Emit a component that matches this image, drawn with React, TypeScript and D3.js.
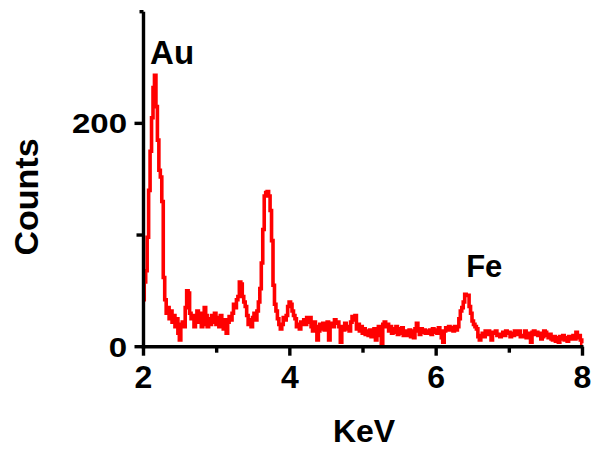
import React from "react";
import * as d3 from "d3";

// EDS spectrum: channel energies start at 2.00 KeV, spaced 0.02 KeV
const energyStart = 2.0;
const energyStep = 0.02;
const counts: number[] = [
  // 2.00 - 2.30
  42, 58, 68, 98, 140, 175, 205, 232, 243, 215, 185, 158, 152, 130, 62, 42,
  // 2.32 - 2.90
  30, 35, 25, 32, 22, 28, 18, 25, 12, 6, 20, 22, 18, 35, 50, 48, 30, 25, 28, 18,
  25, 32, 22, 30, 18, 20, 35, 28, 18, 25,
  // 2.92 - 4.10
  20, 28, 22, 30, 20, 26, 18, 28, 22, 16,
  24, 12, 22, 27, 24, 30, 38, 35, 42, 45,
  58, 56, 45, 40, 36, 28, 20, 24, 18, 26,
  30, 24, 32, 40, 52, 75, 105, 135, 138, 139,
  135, 122, 95, 55, 38, 32, 25, 20, 16, 20,
  26, 24, 28, 36, 40, 38, 32, 28, 25, 18,
  // 4.12 - 4.90
  20, 16, 22, 20, 24, 20, 26, 22, 26, 18,
  14, 22, 18, 6, 14, 20, 16, 21, 15, 20,
  22, 6, 18, 21, 18, 24, 21, 22, 18, 4,
  18, 15, 21, 16, 18, 14, 22, 27, 24, 28,
  // 4.92 - 5.90
  16, 20, 14, 18, 12, 16, 11, 14, 10, 15,
  9, 13, 16, 6, 10, 18, 14, 3, 20, 22,
  18, 20, 14, 18, 12, 16, 13, 18, 11, 16,
  12, 17, 10, 14, 12, 10, 15, 9, 14, 8,
  16, 21, 14, 11, 16, 13, 15, 12, 14, 12,
  // 5.92 - 6.90
  15, 11, 16, 13, 15, 12, 17, 14, 8, 4,
  14, 17, 15, 18, 15, 17, 14, 18, 15, 18,
  25, 32, 35, 40, 47, 46, 46, 36, 30, 23,
  20, 18, 16, 9, 6, 10, 12, 9, 14, 11,
  14, 12, 6, 13, 12, 14, 10, 11, 9, 10,
  // 6.92 - 8.00
  13, 10, 14, 12, 13, 9, 12, 10, 14, 13,
  11, 14, 9, 10, 9, 14, 8, 12, 10, 4,
  13, 14, 11, 13, 10, 12, 7, 9, 14, 13,
  10, 8, 11, 7, 6, 9, 5, 8, 4, 9,
  7, 10, 6, 8, 5, 9, 7, 8, 10, 7,
  13, 8, 10, 6, 3,
];

const xMajorTicks = [2, 4, 6, 8];
const xMinorTicks = [3, 5, 7];
const yMajorTicks = [0, 200];
const yMinorTicks = [100, 300];
const peakLabels = [
  { text: "Au", energy: 2.09, count: 253, size: 33 },
  { text: "Fe", energy: 6.41, count: 62, size: 31 },
];

const FONT = "'Liberation Sans', Arial, Helvetica, sans-serif";

export default function App() {
  const width = 595;
  const height = 450;
  const x = d3.scaleLinear().domain([2, 8]).range([143.5, 582.5]);
  const y = d3.scaleLinear().domain([0, 300]).range([346.7, 11.7]);

  const points: [number, number][] = counts.map((c, i) => [
    energyStart + i * energyStep,
    c,
  ]);
  const line = d3
    .line<[number, number]>()
    .x((d) => x(d[0]))
    .y((d) => y(d[1]))
    .curve(d3.curveStep);

  const axisW = 3.4;

  return (
    <svg
      width={width}
      height={height}
      style={{ position: "absolute", left: 0, top: 0, display: "block", background: "#fff" }}
    >
      <rect x={0} y={0} width={width} height={height} fill="#fff" />
      {/* spectrum */}
      <path
        d={line(points) || ""}
        fill="none"
        stroke="#ff0000"
        strokeWidth={3.6}
        strokeLinejoin="miter"
      />
      {/* axes */}
      <line x1={x(2)} x2={x(2)} y1={y(0) + axisW / 2} y2={y(300)} stroke="#000" strokeWidth={axisW} />
      <line x1={x(2) - axisW / 2} x2={x(8) + 1} y1={y(0)} y2={y(0)} stroke="#000" strokeWidth={axisW} />
      {yMajorTicks.map((v) => (
        <line key={"ym" + v} x1={x(2) - 9} x2={x(2)} y1={y(v)} y2={y(v)} stroke="#000" strokeWidth={axisW} />
      ))}
      {yMinorTicks.map((v) => (
        <line key={"yn" + v} x1={x(2) - (v === 300 ? 4 : 7)} x2={x(2)} y1={y(v)} y2={y(v)} stroke="#000" strokeWidth={axisW} />
      ))}
      {xMajorTicks.map((v) => (
        <line key={"xm" + v} x1={x(v)} x2={x(v)} y1={y(0)} y2={y(0) + 9} stroke="#000" strokeWidth={axisW} />
      ))}
      {xMinorTicks.map((v) => (
        <line key={"xn" + v} x1={x(v)} x2={x(v)} y1={y(0)} y2={y(0) + 6} stroke="#000" strokeWidth={axisW} />
      ))}
      {/* tick labels */}
      {yMajorTicks.map((v) => (
        <text
          key={"yl" + v}
          transform={`translate(127, ${y(v) + 10}) scale(1.18, 1)`}
          textAnchor="end"
          fontFamily={FONT}
          fontWeight="bold"
          fontSize={28}
          fill="#000"
        >
          {v}
        </text>
      ))}
      {xMajorTicks.map((v) => (
        <text
          key={"xl" + v}
          x={x(v)}
          y={388}
          textAnchor="middle"
          fontFamily={FONT}
          fontWeight="bold"
          fontSize={32}
          fill="#000"
        >
          {v}
        </text>
      ))}
      {/* axis titles */}
      <text
        transform="translate(38, 197) rotate(-90)"
        textAnchor="middle"
        fontFamily={FONT}
        fontWeight="bold"
        fontSize={34}
        fill="#000"
      >
        Counts
      </text>
      <text x={364} y={442} textAnchor="middle" fontFamily={FONT} fontWeight="bold" fontSize={32} fill="#000">
        KeV
      </text>
      {/* peak labels */}
      {peakLabels.map((p) => (
        <text
          key={p.text}
          x={x(p.energy)}
          y={y(p.count)}
          fontFamily={FONT}
          fontWeight="bold"
          fontSize={p.size}
          fill="#000"
        >
          {p.text}
        </text>
      ))}
    </svg>
  );
}
